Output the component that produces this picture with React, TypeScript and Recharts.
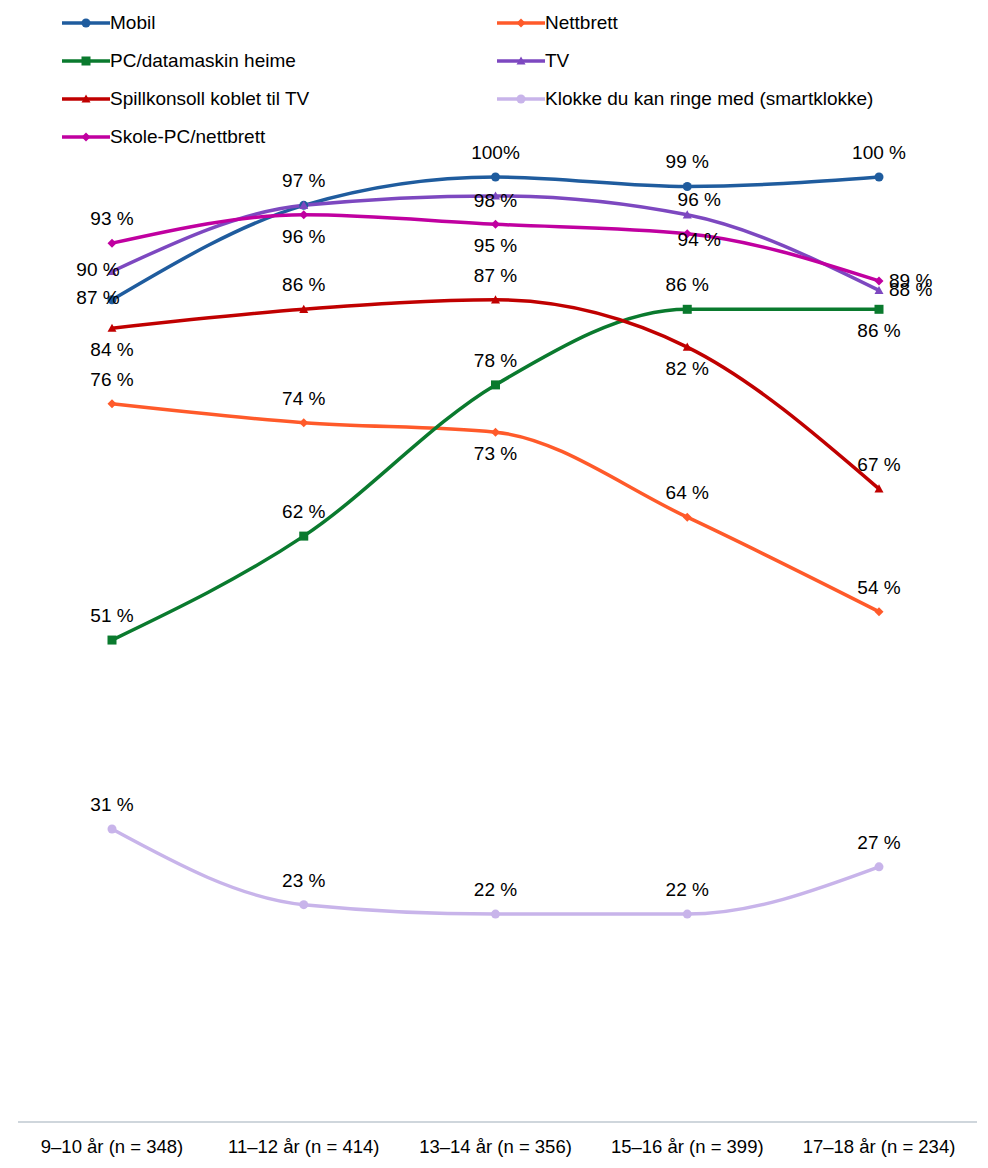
import React from 'react';
import { LineChart, Line, XAxis, YAxis } from 'recharts';

const categories = ['9–10 år (n = 348)', '11–12 år (n = 414)', '13–14 år (n = 356)', '15–16 år (n = 399)', '17–18 år (n = 234)'];
const mobil = [87, 97, 100, 99, 100];
const nettbrett = [76, 74, 73, 64, 54];
const pc = [51, 62, 78, 86, 86];
const tv = [90, 97, 98, 96, 88];
const spill = [84, 86, 87, 82, 67];
const klokke = [31, 23, 22, 22, 27];
const skole = [93, 96, 95, 94, 89];

const data = categories.map((c, i) => ({
  name: c, mobil: mobil[i], nettbrett: nettbrett[i], pc: pc[i], tv: tv[i],
  spill: spill[i], klokke: klokke[i], skole: skole[i],
}));

const series: { key: string; name: string; color: string; shape: string; pos: string[] }[] = [
  { key: 'mobil', name: 'Mobil', color: '#1f5c9e', shape: 'circle', pos: ['l', 'a', 'a', 'a', 'a'] },
  { key: 'nettbrett', name: 'Nettbrett', color: '#ff5a2a', shape: 'diamond', pos: ['a', 'a', 'b', 'a', 'a'] },
  { key: 'pc', name: 'PC/datamaskin heime', color: '#0a7a2e', shape: 'square', pos: ['a', 'a', 'a', 'a', 'b'] },
  { key: 'tv', name: 'TV', color: '#7d48c0', shape: 'triangle', pos: ['l', 'n', 'a2', 'ar', 'r'] },
  { key: 'spill', name: 'Spillkonsoll koblet til TV', color: '#c00000', shape: 'triangle', pos: ['b', 'a', 'a', 'b', 'a'] },
  { key: 'klokke', name: 'Klokke du kan ringe med (smartklokke)', color: '#c8b4ea', shape: 'circle', pos: ['a', 'a', 'a', 'a', 'a'] },
  { key: 'skole', name: 'Skole-PC/nettbrett', color: '#c000a0', shape: 'diamond', pos: ['a', 'b', 'b', 'br', 'r'] },
];

const Marker = ({ shape, color, cx, cy, s = 4.5 }: any) => {
  if (shape === 'circle') return <circle cx={cx} cy={cy} r={s} fill={color} />;
  if (shape === 'square') return <rect x={cx - s} y={cy - s} width={2 * s} height={2 * s} fill={color} />;
  if (shape === 'diamond') return <polygon points={`${cx},${cy - s} ${cx + s},${cy} ${cx},${cy + s} ${cx - s},${cy}`} fill={color} />;
  return <polygon points={`${cx},${cy - s} ${cx + s},${cy + s * 0.8} ${cx - s},${cy + s * 0.8}`} fill={color} />;
};

const makeLabel = (pos: string[]) => (props: any) => {
  const { x, y, value, index } = props;
  const p = pos[index];
  if (p === 'n') return null;
  let tx = x, ty = y - 18, anchor: any = 'middle';
  if (p === 'b') ty = y + 28;
  if (p === 'l') { tx = x - 14; ty = y + 4; }
  if (p === 'r') { tx = x + 10; ty = y + 6; anchor = 'start'; }
  if (p === 'a2') { ty = y + 11; }
  if (p === 'ar') { tx = x + 12; ty = y - 9; }
  if (p === 'br') { tx = x + 12; ty = y + 12; }
  return <text key={index} x={tx} y={ty} textAnchor={anchor} fontSize={19} fill="#000">{`${value}${value === 100 && index === 2 ? '%' : ' %'}`}</text>;
};

const LegendBox = () => (
  <div style={{ position: 'absolute', left: 0, top: 0, width: 988, height: 160 }}>
    {series.map((s, i) => {
      const col = i % 2, row = Math.floor(i / 2);
      return (
        <div key={s.key} style={{ position: 'absolute', left: col ? 497 : 62, top: 12 + row * 38, display: 'flex', alignItems: 'center', fontSize: 19, fontFamily: 'Liberation Sans, Arial', color: '#000' }}>
          <svg width={48} height={20}><line x1={0} y1={10} x2={48} y2={10} stroke={s.color} strokeWidth={3.5} /><Marker shape={s.shape} color={s.color} cx={24} cy={10} s={4.5} /></svg>
          <span>{s.name}</span>
        </div>
      );
    })}
  </div>
);

export default function App() {
  return (
    <div style={{ position: 'absolute', left: 0, top: 0, width: 988, height: 1168, fontFamily: 'Liberation Sans, Arial' }}>
      <LineChart width={988} height={1168} data={data} margin={{ top: 177, right: 11, bottom: 16, left: 18 }}>
        <XAxis dataKey="name" axisLine={{ stroke: '#bfc8d0', strokeWidth: 1.5 }} tickLine={false} tick={{ fontSize: 18.5, fill: '#000' }} interval={0} height={30} tickMargin={12} padding={{ left: 94, right: 98 }} />
        <YAxis hide domain={[0, 100]} />
        {series.map((s) => (
          <Line key={s.key} dataKey={s.key} name={s.name} type="monotone" stroke={s.color} strokeWidth={3.5}
            isAnimationActive={false}
            dot={(p: any) => <Marker key={p.index} shape={s.shape} color={s.color} cx={p.cx} cy={p.cy} />}
            label={makeLabel(s.pos)} />
        ))}
      </LineChart>
      <LegendBox />
    </div>
  );
}
